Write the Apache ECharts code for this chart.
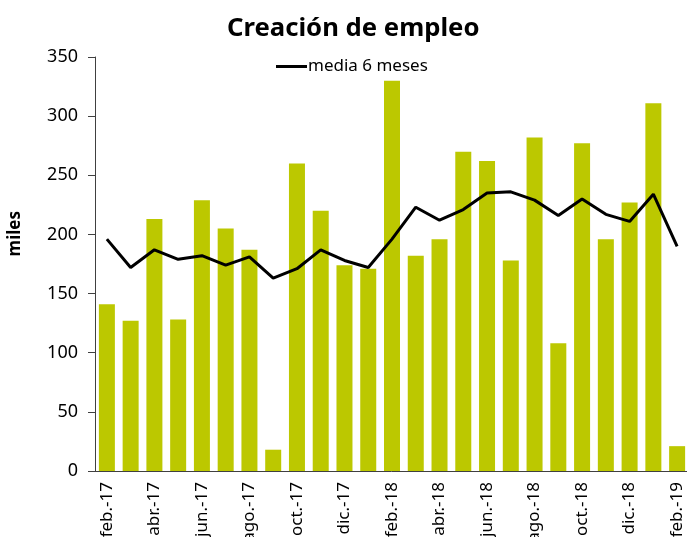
<!DOCTYPE html>
<html>
<head>
<meta charset="utf-8">
<script src="https://cdn.jsdelivr.net/npm/echarts@6/dist/echarts.min.js"></script>
<style>
  html, body { margin: 0; padding: 0; background: #fff; }
  #chart { width: 687px; height: 537px; }
</style>
</head>
<body>
<div id="chart"></div>
<script>
// meses
const months = [
  'feb.-17', 'mar.-17', 'abr.-17', 'may.-17', 'jun.-17', 'jul.-17', 'ago.-17',
  'sep.-17', 'oct.-17', 'nov.-17', 'dic.-17', 'ene.-18', 'feb.-18', 'mar.-18',
  'abr.-18', 'may.-18', 'jun.-18', 'jul.-18', 'ago.-18', 'sep.-18', 'oct.-18',
  'nov.-18', 'dic.-18', 'ene.-19', 'feb.-19'
]
// creación de empleo mensual (miles)
const empleo = [
  141, 127, 213, 128, 229, 205, 187, 18, 260, 220, 174, 171, 330, 182,
  196, 270, 262, 178, 282, 108, 277, 196, 227, 311, 21
]
// media 6 meses
const media6 = [
  196, 172, 187, 179, 182, 174, 181, 163, 171, 187, 178, 172, 196, 223,
  212, 221, 235, 236, 229, 216, 230, 217, 211, 234, 190
]
const yTicks = [0, 50, 100, 150, 200, 250, 300, 350]

const font = 'Noto Sans'
const chart = echarts.init(document.getElementById('chart'))

const option = {
  animation: false,
  textStyle: { fontFamily: font },
  title: {
    text: 'Creación de empleo',
    left: 222,
    top: 11,
    textStyle: { fontFamily: font, fontSize: 25.7, fontWeight: 'bold', color: '#000' }
  },
  legend: {
    data: [{ name: 'media 6 meses', icon: 'rect' }],
    left: 271,
    top: 53,
    itemWidth: 31,
    itemHeight: 3,
    itemGap: 2,
    textStyle: { fontFamily: font, fontSize: 17, color: '#000', padding: [0, 0, 0, -4] }
  },
  // título del eje vertical
  graphic: [
    {
      type: 'text',
      left: 7,
      top: 211,
      rotation: Math.PI / 2,
      style: { text: 'miles', fontFamily: font, fontSize: 17, fontWeight: 'bold', fill: '#000' }
    }
  ],
  grid: { left: 95, right: -2, top: 57, bottom: 66, outerBoundsMode: 'none', containLabel: false },
  xAxis: {
    type: 'category',
    data: months,
    axisLine: { lineStyle: { color: '#404040', width: 1 } },
    axisTick: { interval: 1, length: 6, lineStyle: { color: '#404040' } },
    axisLabel: { interval: 1, rotate: 90, fontSize: 17, color: '#000', margin: 11 }
  },
  yAxis: {
    type: 'value',
    min: yTicks[0],
    max: yTicks[yTicks.length - 1],
    interval: 50,
    axisLine: { show: true, lineStyle: { color: '#404040', width: 1 } },
    axisTick: { show: true, length: 7, lineStyle: { color: '#404040' } },
    splitLine: { show: false },
    axisLabel: { fontSize: 18, color: '#000', margin: 17 }
  },
  series: [
    {
      name: 'empleo',
      type: 'bar',
      data: empleo,
      barWidth: 16,
      itemStyle: { color: '#bcc800' }
    },
    {
      name: 'media 6 meses',
      type: 'line',
      data: media6,
      symbol: 'none',
      lineStyle: { color: '#000', width: 3 },
      itemStyle: { color: '#000' }
    }
  ]
}

option && chart.setOption(option)
</script>
</body>
</html>
